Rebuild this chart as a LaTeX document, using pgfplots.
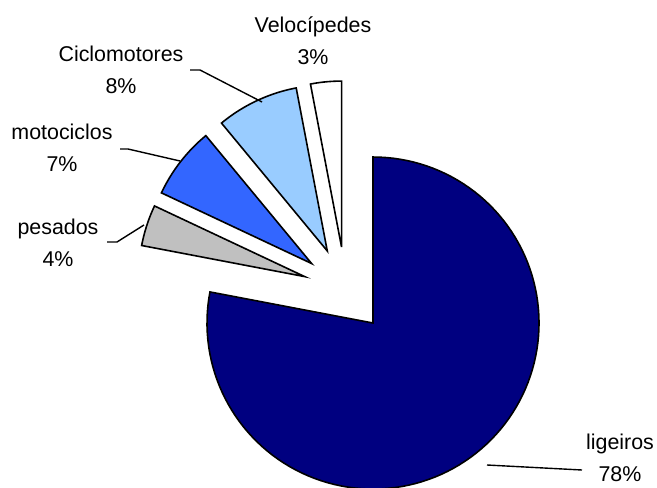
\documentclass[border=0pt]{standalone}
\usepackage{pgfplots}
\pgfplotsset{compat=1.18}
\usepackage{fontspec}
\setmainfont{Liberation Sans}
\definecolor{cLig}{HTML}{000080}
\definecolor{cPes}{HTML}{C0C0C0}
\definecolor{cMot}{HTML}{3366FF}
\definecolor{cCic}{HTML}{99CCFF}
\definecolor{cVel}{HTML}{FFFFFF}
% pie centre (px, y up), radius, explosion
\def\cx{345.6}\def\cy{-289.9}\def\R{166}\def\D{43}
% slice: start angle, end angle, colour
\newcommand{\slice}[3]{%
  \pgfmathsetmacro\bis{(#1+#2)/2}%
  \pgfmathsetmacro\ox{\cx+\D*cos(\bis)}%
  \pgfmathsetmacro\oy{\cy+\D*sin(\bis)}%
  \edef\temp{\noexpand\addplot[fill=#3, draw=black, line width=0.8pt, domain=#1:#2, samples=120, no marks]
    ({\ox+\R*cos(x)}, {\oy+\R*sin(x)}) -- (axis cs:\ox,\oy) -- cycle;}%
  \temp}
\begin{document}
\begin{tikzpicture}
\begin{axis}[name=ax, hide axis, scale only axis, width=328.5pt, height=243.5pt,
  xmin=0, xmax=657, ymin=-487, ymax=0, clip=true]
% shares (percent): ligeiros 78, pesados 4, motociclos 7, ciclomotores 8, velocipedes 3
% angles: start at 90 deg, clockwise, 3.6 deg per percent
\slice{-190.8}{90}{cLig}
\slice{154.8}{169.2}{cPes}
\slice{129.6}{154.8}{cMot}
\slice{100.8}{129.6}{cCic}
\slice{90}{100.8}{cVel}
% leader lines
\addplot[black, line width=0.7pt, no marks] coordinates {(190,-70) (200,-70) (262,-102)};
\addplot[black, line width=0.7pt, no marks] coordinates {(120,-149) (128,-149) (180,-161)};
\addplot[black, line width=0.7pt, no marks] coordinates {(107,-242) (117,-242) (144,-225)};
\addplot[black, line width=0.7pt, no marks] coordinates {(487,-465) (582,-470)};
% labels
\tikzset{lab/.style={align=center, font=\fontsize{10.7}{16}\selectfont, inner sep=0pt}}
\node[lab] at (axis cs:313,-41) {Velocípedes\\3\%};
\node[lab] at (axis cs:121,-70) {Ciclomotores\\8\%};
\node[lab] at (axis cs:62,-148) {motociclos\\7\%};
\node[lab] at (axis cs:58,-243) {pesados\\4\%};
\node[lab] at (axis cs:620,-458) {ligeiros\\78\%};
\end{axis}
\pgfresetboundingbox
\useasboundingbox (ax.south west) rectangle (ax.north east);
\end{tikzpicture}
\end{document}
